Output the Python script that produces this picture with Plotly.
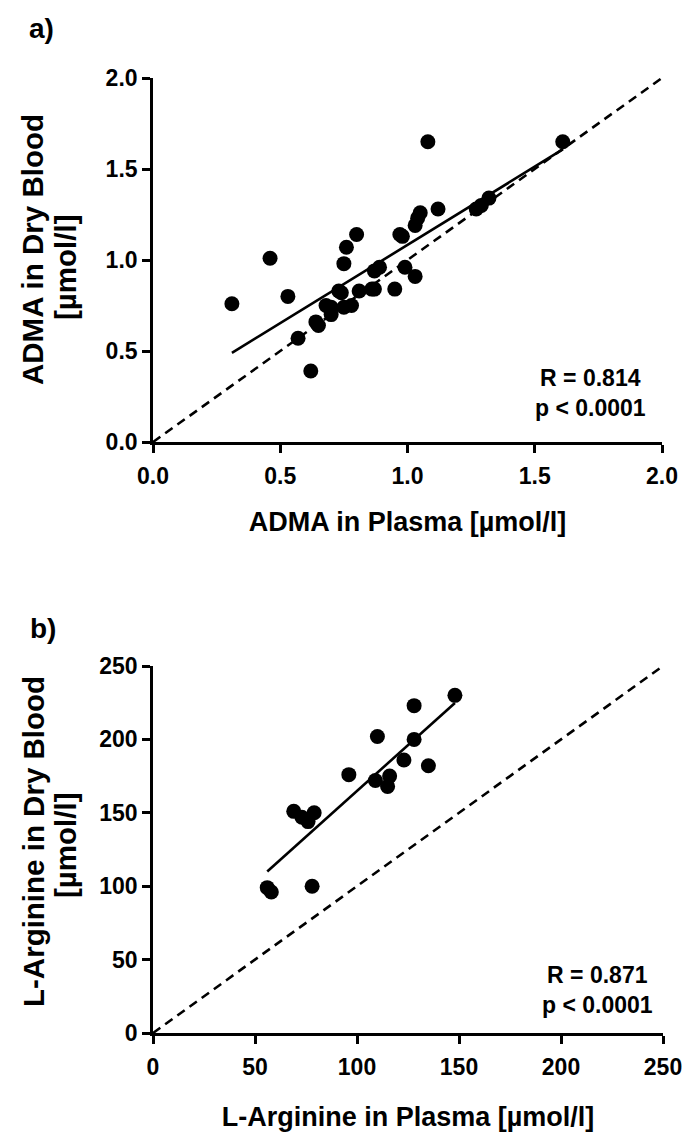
import plotly.graph_objects as go

# ---------------- data ----------------
# Panel a: ADMA
adma_plasma = [0.31, 0.46, 0.53, 0.57, 0.62, 0.64, 0.65, 0.68, 0.70, 0.70, 0.73, 0.74,
               0.75, 0.76, 0.75, 0.78, 0.80, 0.81, 0.86, 0.87, 0.87, 0.89, 0.95, 0.97,
               0.98, 0.99, 1.03, 1.03, 1.04, 1.05, 1.08, 1.12, 1.27, 1.29, 1.32, 1.61]
adma_dry = [0.76, 1.01, 0.80, 0.57, 0.39, 0.66, 0.64, 0.75, 0.74, 0.70, 0.83, 0.82,
            0.98, 1.07, 0.74, 0.75, 1.14, 0.83, 0.84, 0.84, 0.94, 0.96, 0.84, 1.14,
            1.13, 0.96, 0.91, 1.19, 1.23, 1.26, 1.65, 1.28, 1.28, 1.30, 1.34, 1.65]
adma_fit = (0.86, 0.223)        # slope, intercept
adma_stats = ["R = 0.814", "p < 0.0001"]
adma_ticks = [0.0, 0.5, 1.0, 1.5, 2.0]
adma_xtitle = "ADMA in Plasma [µmol/l]"
adma_ytitle = ["ADMA in Dry Blood", "[µmol/l]"]

# Panel b: L-Arginine
arg_plasma = [56, 58, 78, 69, 73, 76, 79, 96, 109, 110, 115, 116, 123, 128, 128, 135, 148]
arg_dry = [99, 96, 100, 151, 147, 144, 150, 176, 172, 202, 168, 175, 186, 200, 223, 182, 230]
arg_fit = (1.247, 40.2)         # slope, intercept
arg_stats = ["R = 0.871", "p < 0.0001"]
arg_ticks = [0, 50, 100, 150, 200, 250]
arg_xtitle = "L-Arginine in Plasma [µmol/l]"
arg_ytitle = ["L-Arginine in Dry Blood", "[µmol/l]"]

# ---------------- figure ----------------
# The page body has an 8px default margin; the figure is sized so it fits the window.
OFF = 8
W, H = 696 - OFF, 1143 - OFF
FONT = "Liberation Sans, Arial, sans-serif"


def px_x(p):
    return (p - OFF) / W


def px_y(p):
    return (H - (p - OFF)) / H


fig = go.Figure()


def add_panel(fig, xs, ys, fit, ticks, xa, ya):
    lo, hi = ticks[0], ticks[-1]
    # identity line
    fig.add_trace(go.Scatter(x=[lo, hi], y=[lo, hi], mode="lines",
                             line=dict(color="black", width=2.6, dash="9px,6px"),
                             xaxis=xa, yaxis=ya, hoverinfo="skip"))
    # regression line
    x0, x1 = min(xs), max(xs)
    fig.add_trace(go.Scatter(x=[x0, x1], y=[fit[0] * x0 + fit[1], fit[0] * x1 + fit[1]],
                             mode="lines", line=dict(color="black", width=2.6),
                             xaxis=xa, yaxis=ya, hoverinfo="skip"))
    # points
    fig.add_trace(go.Scatter(x=xs, y=ys, mode="markers",
                             marker=dict(color="black", size=15, line=dict(width=0)),
                             cliponaxis=False, xaxis=xa, yaxis=ya))


add_panel(fig, adma_plasma, adma_dry, adma_fit, adma_ticks, "x", "y")
add_panel(fig, arg_plasma, arg_dry, arg_fit, arg_ticks, "x2", "y2")

tickfont = dict(family=FONT, size=23, color="black", weight="bold")
titlefont = dict(family=FONT, size=27, color="black", weight="bold")

common = dict(showline=True, linecolor="black", linewidth=2.6, ticks="outside",
              ticklen=8, tickwidth=2.6, tickcolor="black", showgrid=False,
              zeroline=False, tickfont=tickfont, fixedrange=True, automargin=False)

fig.update_layout(
    template="none",
    width=W, height=H,
    margin=dict(l=0, r=0, t=0, b=0),
    paper_bgcolor="white", plot_bgcolor="white",
    showlegend=False,
    xaxis=dict(domain=[px_x(153), px_x(662)], anchor="y", range=[0, 2],
               tickvals=adma_ticks, tickformat=".1f", ticklabelstandoff=4,
               title=dict(text=adma_xtitle, font=titlefont, standoff=24),
               **common),
    yaxis=dict(domain=[px_y(442), px_y(78)], anchor="x", range=[0, 2],
               tickvals=adma_ticks, tickformat=".1f",
               **common),
    xaxis2=dict(domain=[px_x(153), px_x(663)], anchor="y2", range=[0, 250],
                tickvals=arg_ticks, ticklabelstandoff=4,
                title=dict(text=arg_xtitle, font=titlefont, standoff=28),
                **common),
    yaxis2=dict(domain=[px_y(1033), px_y(666)], anchor="x2", range=[0, 250],
                tickvals=arg_ticks,
                **common),
)

# y-axis titles (two lines each, tight line spacing)
ytfont = dict(family=FONT, size=29.5, color="black", weight="bold")
for lines, ys in ((adma_ytitle, (250, 267)), (arg_ytitle, (842, 845))):
    for txt, xc, yc in zip(lines, (33, 65), ys):
        fig.add_annotation(x=px_x(xc), y=px_y(yc), xref="paper", yref="paper", text=txt,
                           textangle=-90, showarrow=False, xanchor="center",
                           yanchor="middle", font=ytfont)

statfont = dict(family=FONT, size=23, color="black", weight="bold")
fig.add_annotation(x=1.72, y=0.27, xref="x", yref="y", text="<br>".join(adma_stats),
                   showarrow=False, align="center", xanchor="center", yanchor="middle",
                   font=statfont)
fig.add_annotation(x=218, y=29, xref="x2", yref="y2", text="<br>".join(arg_stats),
                   showarrow=False, align="center", xanchor="center", yanchor="middle",
                   font=statfont)

panelfont = dict(family=FONT, size=28, color="black", weight="bold")
fig.add_annotation(x=px_x(27), y=px_y(28), xref="paper", yref="paper", text="a)",
                   showarrow=False, xanchor="left", yanchor="middle", font=panelfont)
fig.add_annotation(x=px_x(28), y=px_y(628), xref="paper", yref="paper", text="b)",
                   showarrow=False, xanchor="left", yanchor="middle", font=panelfont)

fig.write_html("out.html")
